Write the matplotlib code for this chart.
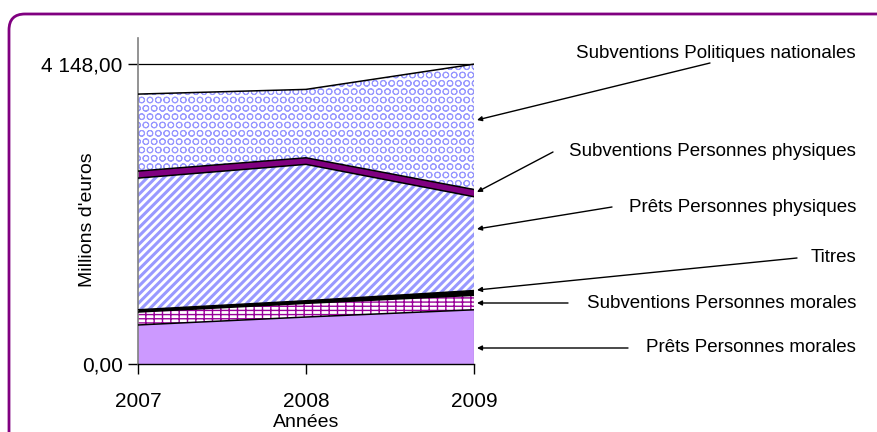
import matplotlib
matplotlib.use("Agg")
import matplotlib.pyplot as plt
import numpy as np
from matplotlib.patches import FancyBboxPatch
from matplotlib.transforms import IdentityTransform

plt.rcParams['font.family'] = ['Liberation Sans', 'DejaVu Sans']

annees = [2007, 2008, 2009]

# valeurs (millions d'euros)
prets_pm = [540, 650, 750]
subv_pm = [179, 189, 200]
titres = [31, 36, 66]
prets_pp = [1822, 1887, 1298]
subv_pp = [97, 91, 100]
subv_pn = [1065, 946, 1734]

noms = ["Prêts Personnes morales", "Subventions Personnes morales", "Titres",
        "Prêts Personnes physiques", "Subventions Personnes physiques",
        "Subventions Politiques nationales"]
yticks = [0, 4148]
yticklabels = ["0,00", "4 148,00"]

# style de chaque couche: (fond, couleur hachure, hachure, épaisseur hachure)
styles = [
    ("#CC99FF", None, None, 0),
    ("white", "#990099", "----||", 1.0),
    ("black", None, None, 0),
    ("white", "#9999FF", "////", 2.2),
    ("#800080", None, None, 0),
    ("white", "#9999FF", "OO", 0.7),
]

fig = plt.figure(figsize=(8.78, 4.32), dpi=100)
H = 432

# cadre arrondi violet (en pixels)
cadre = FancyBboxPatch((9, -30), 900, H - 14 + 30,
                       boxstyle="round,pad=0,rounding_size=16",
                       transform=IdentityTransform(), facecolor="none",
                       edgecolor="#800080", linewidth=2, clip_on=False, zorder=-1)
fig.patches.append(cadre)

ax = fig.add_axes([138 / 878, 68 / 432, 336 / 878, 326 / 432])
ax.set_facecolor("none")

couches = [prets_pm, subv_pm, titres, prets_pp, subv_pp, subv_pn]
x = np.array(annees)
bas = np.zeros(3)
for serie, (fond, hcol, hatch, hlw) in zip(couches, styles):
    haut = bas + np.array(serie)
    ax.fill_between(x, bas, haut, facecolor=fond, linewidth=0, zorder=1)
    if hatch:
        c = ax.fill_between(x, bas, haut, facecolor="none", edgecolor=hcol,
                            hatch=hatch, linewidth=0, zorder=2)
        if hasattr(c, "set_hatch_linewidth"):
            c.set_hatch_linewidth(hlw)
    ax.plot(x, haut, color="black", linewidth=1.1, zorder=3)
    bas = haut

ax.plot([x[-1], x[-1]], [0, bas[-1]], color="#555555", linewidth=0.8, zorder=3)
ax.axhline(4148, color="black", linewidth=0.9, zorder=0)

ax.set_xlim(2007, 2009)
ax.set_ylim(0, 4510)
ax.set_xticks(annees)
ax.set_xticklabels([str(a) for a in annees], fontsize=15)
ax.set_yticks(yticks)
ax.set_yticklabels(yticklabels, fontsize=15)
ax.tick_params(axis="x", direction="out", length=7, width=1, pad=13)
ax.tick_params(axis="y", direction="out", length=7, width=1, pad=4)
for s in ["top", "right"]:
    ax.spines[s].set_visible(False)
ax.spines["left"].set_color("#808080")
ax.spines["left"].set_linewidth(1.2)
ax.spines["bottom"].set_color("black")
ax.spines["bottom"].set_linewidth(1)
ax.set_xlabel("Années", fontsize=14)
ax.set_ylabel("Millions d'euros", fontsize=14)
ax.xaxis.set_label_coords(0.5, -0.18)
ax.yaxis.set_label_coords(-0.149, 0.442)
ax.xaxis.label.set_va("center")
ax.yaxis.label.set_va("center")

# étiquettes à droite avec flèches (pixels image: y vers le bas)
etiquettes = [
    (noms[5], 53, (710, 63), (477, 120)),
    (noms[4], 152, (553, 152), (477, 192)),
    (noms[3], 208, (612, 207), (477, 229)),
    (noms[2], 257, (797, 258), (477, 290)),
    (noms[1], 303, (568, 303), (477, 303)),
    (noms[0], 348, (628, 348), (477, 348)),
]
for texte, ty, queue, tete in etiquettes:
    fig.text(856 / 878, (H - ty) / H, texte, ha="right", va="center", fontsize=13.5)
    ax.annotate("", xy=(tete[0], H - tete[1]), xycoords="figure pixels",
                xytext=(queue[0], H - queue[1]), textcoords="figure pixels",
                arrowprops=dict(arrowstyle="-|>", color="black", lw=1,
                                mutation_scale=7, shrinkA=0, shrinkB=0))

fig.savefig("out.png", dpi=100)
